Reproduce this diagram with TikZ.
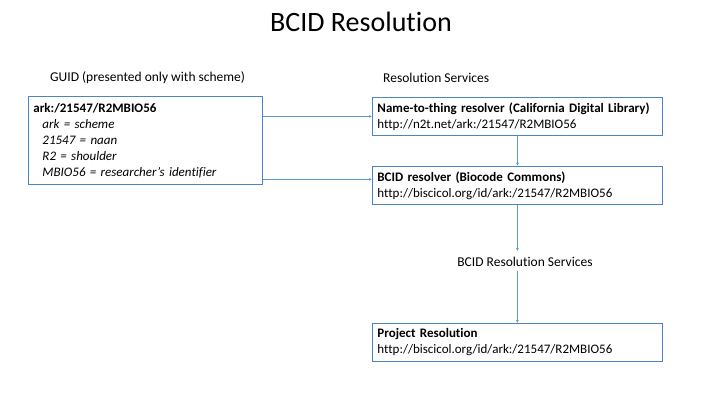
\documentclass[tikz,border=0pt]{standalone}
\usepackage{fontspec}
\setmainfont{Carlito}[Ligatures=NoCommon]
\usetikzlibrary{arrows.meta,positioning}
\definecolor{boxblue}{RGB}{74,134,197}
\definecolor{lineblue}{RGB}{91,155,213}
\newcommand{\ind}{\hspace*{9pt}}

\begin{document}
\begin{tikzpicture}[
  x=1pt, y=1pt,
  node distance=30pt,
  box/.style={rectangle, draw=boxblue, line width=0.9pt, align=left,
    inner xsep=5pt, font=\fontsize{13}{16}\selectfont},
  guidbox/.style={box, text width=224pt, minimum height=88pt},
  resbox/.style={box, text width=280pt, minimum height=38pt},
  lbl/.style={font=\fontsize{13.5}{16}\selectfont, inner sep=2pt},
  arr/.style={-{Latex[length=3pt,width=3pt]}, draw=lineblue, line width=0.8pt}
]
\useasboundingbox (0,0) rectangle (720,405);

% headings
\node (title) at (361,383) {\fontsize{28}{32}\selectfont BCID Resolution};
\node[lbl, anchor=west] (guidlbl) at (48,327) {GUID (presented only with scheme)};
\node[lbl, anchor=west] (reslbl) at (381,327) {Resolution Services};

% identifier
\node[guidbox, anchor=north west] (guid) at (28,309) {\textbf{ark:/21547/R2MBIO56}\\
  \ind\textit{ark = scheme}\\
  \ind\textit{21547 = naan}\\
  \ind\textit{R2 = shoulder}\\
  \ind\textit{MBIO56 = researcher’s identifier}};

% resolvers
\node[resbox, anchor=north west] (n2t) at (372,308) {\textbf{Name-to-thing resolver (California Digital Library)}\\
  http://n2t.net/ark:/21547/R2MBIO56};
\node[resbox, below=30pt of n2t] (bcid) {\textbf{BCID resolver (Biocode Commons)}\\
  http://biscicol.org/id/ark:/21547/R2MBIO56};
\node[lbl] (svc) at (525,143) {BCID Resolution Services};
\node[resbox, anchor=north west] (proj) at (372,82) {\textbf{Project Resolution}\\
  http://biscicol.org/id/ark:/21547/R2MBIO56};

\draw[arr] (guid.east |- n2t.west) -- (n2t.west);
\draw[arr] ([yshift=6pt]guid.east |- bcid.west) -- ([yshift=6pt]bcid.west);
\draw[arr] (n2t) -- (bcid);
\draw[arr] (bcid.south) -- ([yshift=4pt]bcid.south |- svc.north);
\draw[arr] ([yshift=-2pt]svc.south -| proj.north) -- (proj.north);
\end{tikzpicture}
\end{document}
